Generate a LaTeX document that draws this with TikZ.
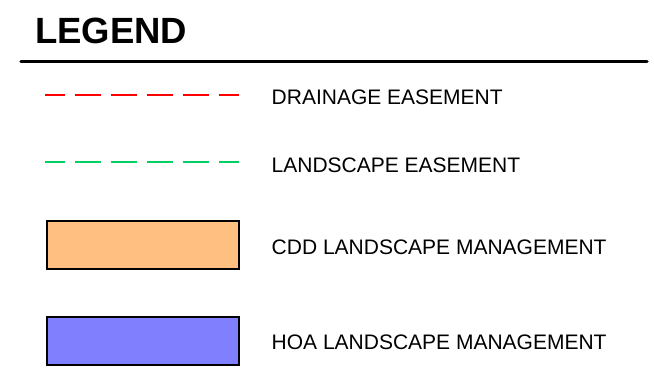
\documentclass[tikz,border=0pt]{standalone}
\usepackage{fontspec}
\setmainfont{Liberation Sans}
\definecolor{ddred}{RGB}{255,0,0}
\definecolor{ddgreen}{RGB}{0,208,100}
\definecolor{cddfill}{RGB}{255,191,128}
\definecolor{hoafill}{RGB}{128,128,255}
\begin{document}
\begin{tikzpicture}[x=1pt,y=-1pt,
  legtext/.style={anchor=base west,inner sep=0pt,font=\fontsize{21}{24}\selectfont},
  dashline/.style={line width=2pt,dash pattern=on 26pt off 10pt,dash phase=6pt},
  swatch/.style={draw=black,line width=1.5pt,minimum width=192pt,minimum height=48pt,inner sep=0pt,anchor=north west}]
\useasboundingbox (0,0) rectangle (654,380);
\node[anchor=base west,inner sep=0pt,font=\fontsize{36.5}{40}\selectfont\bfseries] (title) at (35,43) {LEGEND};
\coordinate (r1) at (21,61.5);
\coordinate (r2) at (647,61.5);
\draw[line width=3.5pt,line cap=round] (r1) -- (r2);
\coordinate (d1) at (45,95);
\coordinate (d2) at (239,95);
\draw[dashline,ddred] (d1) -- (d2);
\node[legtext] (dt) at (271.5,104) {DRAINAGE EASEMENT};
\coordinate (l1) at (45,162);
\coordinate (l2) at (239,162);
\draw[dashline,ddgreen] (l1) -- (l2);
\node[legtext] (lt) at (271.5,172) {LANDSCAPE EASEMENT};
\node[swatch,fill=cddfill] (cdd) at (46,220) {};
\node[legtext] (ct) at (271.5,254) {CDD LANDSCAPE MANAGEMENT};
\node[swatch,fill=hoafill] (hoa) at (46,316) {};
\node[legtext] (ht) at (271.5,349) {HOA LANDSCAPE MANAGEMENT};
\end{tikzpicture}
\end{document}
